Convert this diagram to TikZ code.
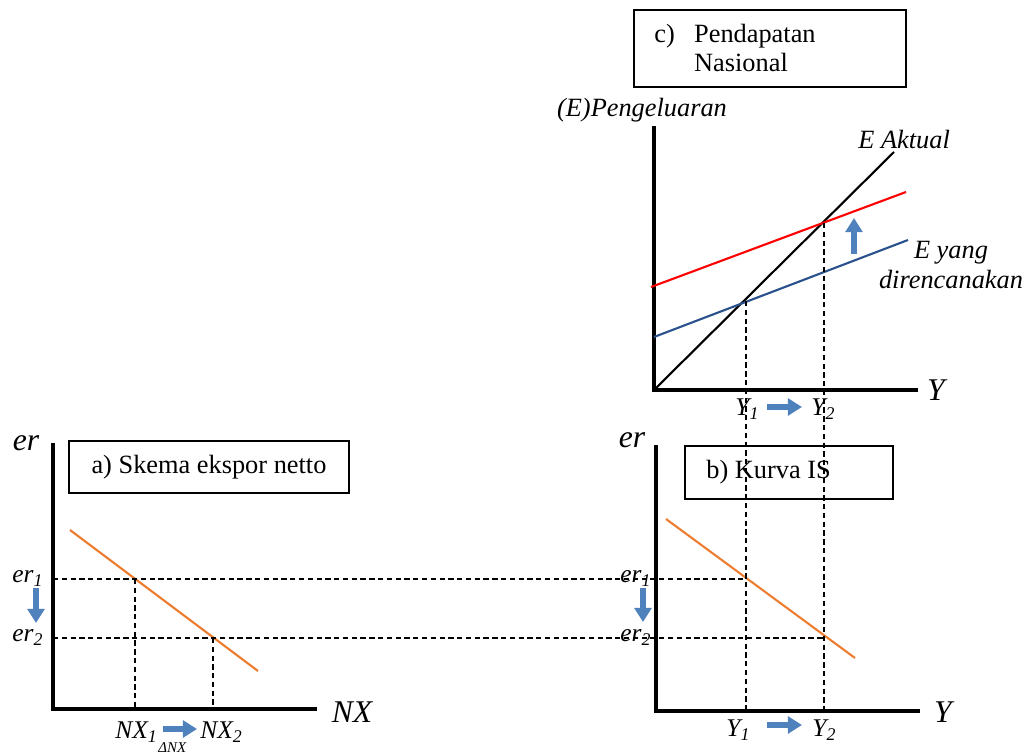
\documentclass[tikz,border=0pt]{standalone}
\usepackage{fontspec}
\setmainfont{Liberation Serif}
\usetikzlibrary{arrows.meta}
\begin{document}
\begin{tikzpicture}[x=0.02cm,y=-0.02cm,
    axis/.style={line width=2.4pt,line cap=rect},
    guide/.style={line width=0.7pt,dash pattern=on 3pt off 2pt},
    box/.style={draw,line width=0.8pt,inner sep=0pt},
    boxtext/.style={font=\fontsize{15}{17}\selectfont,inner sep=0pt},
    lbl/.style={font=\fontsize{18}{20}\selectfont\itshape,inner sep=0pt},
    tick/.style={font=\fontsize{14.5}{16}\selectfont\itshape,inner sep=0pt,anchor=base west},
    curvetext/.style={font=\fontsize{15}{17}\selectfont\itshape,inner sep=0pt},
    curve/.style={line width=1.2pt},
    move/.style={line width=3.8pt,draw=colArr,-{Triangle[width=9.5pt,length=8pt]}}]
  \useasboundingbox (0,0) rectangle (1036,753);
  % warna garis dan panah
  \definecolor{colArr}{RGB}{79,129,189}
  \definecolor{colOr}{RGB}{237,125,49}
  \definecolor{colBl}{RGB}{41,82,140}

  % ---- c) pendapatan nasional ----
  \node[box,minimum width=5.44cm,minimum height=1.54cm] (boxC) at (770,48.5) {};
  \node[boxtext,anchor=west] (txtC) at (654,51)
    {\begin{tabular}{@{}l@{\hspace{11pt}}l@{}}c) & Pendapatan\\ & Nasional\end{tabular}};
  \node[curvetext] (labE) at (642,110) {(E)Pengeluaran};
  \coordinate (cO) at (654,390);
  \coordinate (cT) at (654,128);
  \coordinate (cR) at (916,390);
  \draw[axis] (cT) -- (cO) -- (cR);
  \node[lbl] (labYc) at (936,390) {Y};
  \coordinate (eAk) at (894,152);
  \draw[curve] (cO) -- (eAk);
  \node[curvetext,anchor=west] (labAk) at (858,140) {E Aktual};
  \coordinate (red0) at (651,287);
  \coordinate (red1) at (906,192);
  \draw[curve,red] (red0) -- (red1);
  \coordinate (blu0) at (654,337);
  \coordinate (blu1) at (908,240);
  \draw[curve,colBl] (blu0) -- (blu1);
  \node[curvetext,align=center] (labRen) at (951,265) {E yang\\direncanakan};
  \node[tick] (cY1) at (735,416) {Y\textsubscript{1}};
  \node[tick] (cY2) at (811,416) {Y\textsubscript{2}};

  % ---- a) skema ekspor netto ----
  \node[box,minimum width=5.6cm,minimum height=1.04cm] (boxA) at (209,467) {};
  \node[boxtext] (txtA) at (209,467) {a) Skema ekspor netto};
  \node[lbl] (erA) at (26,443) {er};
  \coordinate (aO) at (53,709);
  \coordinate (aT) at (53,445);
  \coordinate (aR) at (315,709);
  \draw[axis] (aT) -- (aO) -- (aR);
  \node[lbl] (labNX) at (352,712) {NX};
  \coordinate (nxS) at (70,530);
  \coordinate (nxE) at (258,671);
  \draw[curve,colOr] (nxS) -- (nxE);
  \node[tick] (aer1) at (12,583) {er\textsubscript{1}};
  \node[tick] (aer2) at (12,642) {er\textsubscript{2}};
  \node[tick] (nx1) at (115,739) {NX\textsubscript{1}};
  \node[tick] (nx2) at (200,739) {NX\textsubscript{2}};
  \node[tick,font=\fontsize{8.5}{10}\selectfont\itshape] (dNX) at (158,752) {ΔNX};

  % ---- b) kurva IS ----
  \node[box,minimum width=4.16cm,minimum height=1.06cm] (boxB) at (789,472.5) {};
  \node[boxtext,anchor=west] (txtB) at (706,472) {b) Kurva IS};
  \node[lbl] (erB) at (632,440) {er};
  \coordinate (bO) at (656,711);
  \coordinate (bT) at (656,447);
  \coordinate (bR) at (918,711);
  \draw[axis] (bT) -- (bO) -- (bR);
  \node[lbl] (labYb) at (943,712) {Y};
  \coordinate (isS) at (666,519);
  \coordinate (isE) at (855,658);
  \draw[curve,colOr] (isS) -- (isE);
  \node[tick] (ber1) at (620,583) {er\textsubscript{1}};
  \node[tick] (ber2) at (620,642) {er\textsubscript{2}};
  \node[tick] (bY1) at (726,737) {Y\textsubscript{1}};
  \node[tick] (bY2) at (812,737) {Y\textsubscript{2}};

  % ---- garis bantu putus-putus ----
  \coordinate (pA1) at (135,579);
  \coordinate (pA2) at (213,638);
  \coordinate (pB1) at (746,579);
  \coordinate (pB2) at (824,638);
  \coordinate (pC1) at (746,301);
  \coordinate (pC2) at (824,223);
  \draw[guide] (53,579) coordinate (gA1) -- (pB1);
  \draw[guide] (53,638) coordinate (gA2) -- (pB2);
  \draw[guide] (pA1) -- (pA1 |- aO);
  \draw[guide] (pA2) -- (pA2 |- aO);
  \draw[guide] (pC1) -- (pC1 |- bO);
  \draw[guide] (pC2) -- (pC2 |- bO);

  % ---- panah biru ----
  \foreach \n/\xa/\ya/\xb/\yb in {
      arA/36/588/36/623,
      arB/643/588/643/622,
      arC/854/254/854/218,
      arNX/163/729/197/729,
      arYb/767/725/802/725,
      arYc/767/407/802/407}{
    \coordinate (\n0) at (\xa,\ya);
    \coordinate (\n1) at (\xb,\yb);
    \draw[move] (\n0) -- (\n1);
  }
\end{tikzpicture}
\end{document}
